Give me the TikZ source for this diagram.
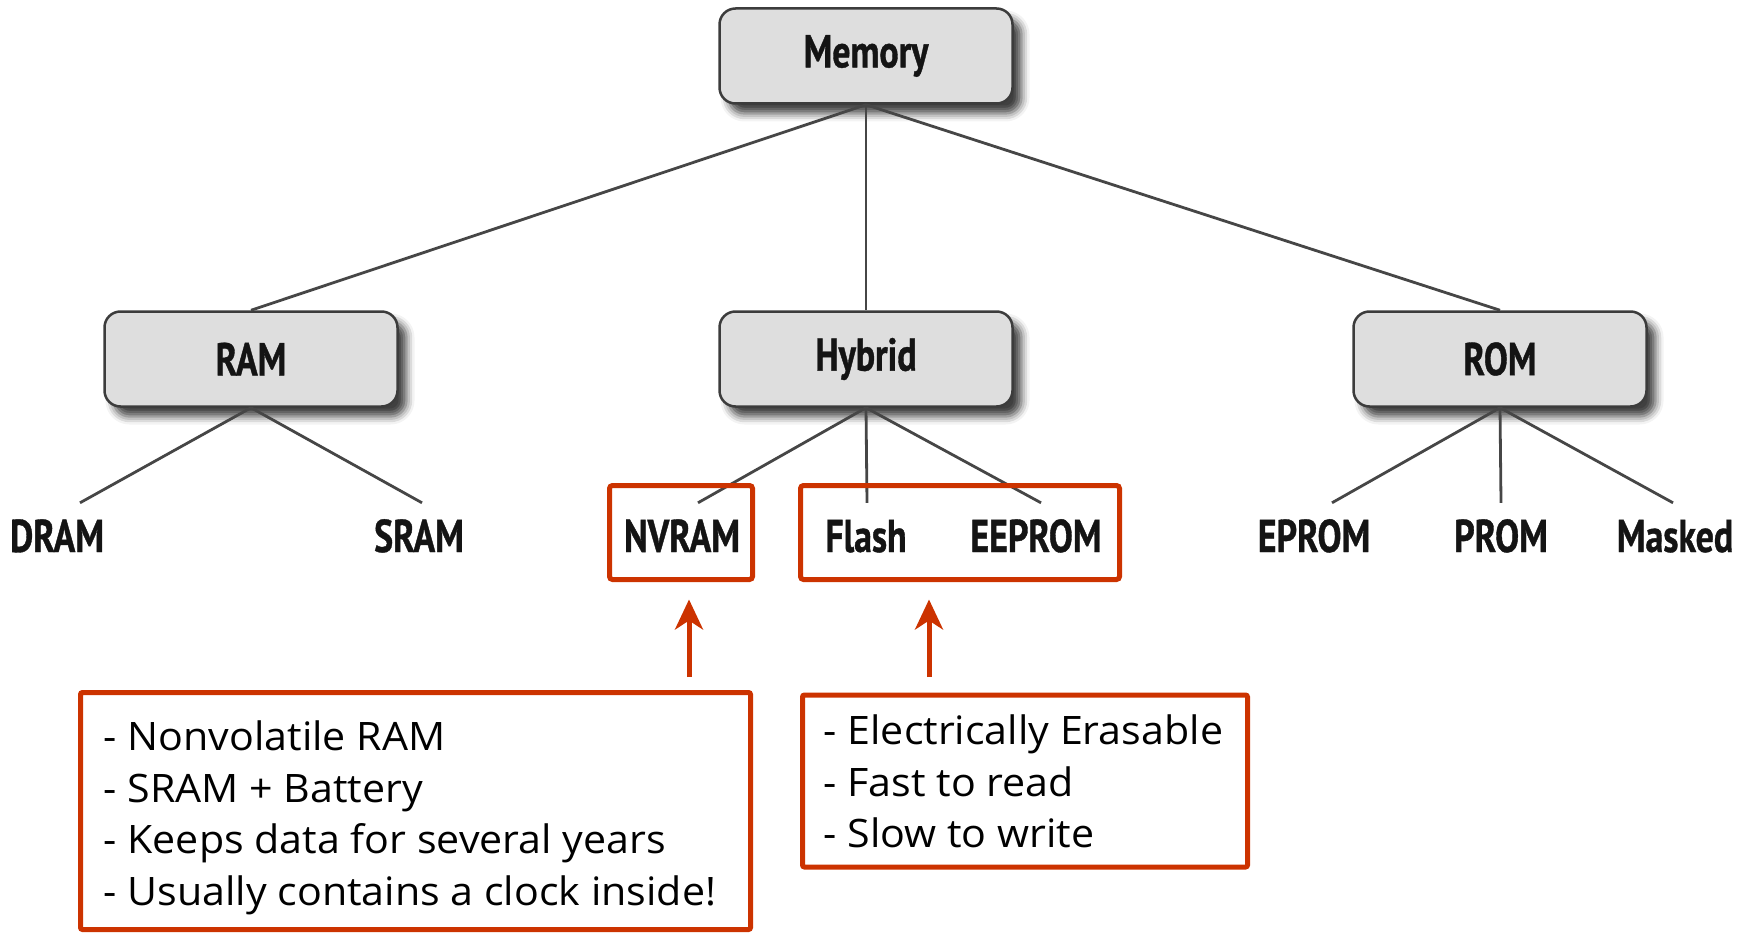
\documentclass[tikz,border=0pt]{standalone}
\usepackage{fontspec}
\setmainfont{Open Sans}[FakeStretch=1.05]
\newfontfamily\leaffont{PT Sans}[FakeStretch=0.78, FakeBold=0.8]
\usetikzlibrary{arrows.meta,shadows.blur}

\definecolor{notered}{RGB}{204,51,0}
\definecolor{boxfill}{RGB}{222,222,222}
\definecolor{boxline}{RGB}{60,60,60}
\definecolor{linkgray}{RGB}{70,70,70}
\definecolor{labelink}{RGB}{20,20,20}

\begin{document}
\begin{tikzpicture}[x=1pt,y=-1pt,
  labelfont/.style={font=\leaffont\bfseries\fontsize{46}{50}\selectfont, text=labelink},
  catbox/.style={labelfont, draw=boxline, line width=2.5pt, fill=boxfill,
    rounded corners=16pt, minimum width=293pt, minimum height=95pt, inner sep=0pt,
    blur shadow={shadow xshift=9pt, shadow yshift=-10pt, shadow blur radius=8pt, shadow opacity=75}},
  leaf/.style={labelfont, anchor=base, inner xsep=0pt, inner ysep=16pt,
    text height=33pt, text depth=0pt},
  link/.style={draw=linkgray, line width=2.8pt},
  hilite/.style={draw=notered, line width=5pt, rounded corners=3pt, inner sep=0pt},
  notetext/.style={anchor=north west, inner sep=0pt, align=left,
    font=\fontsize{39.2}{51.7}\selectfont, text=black},
  callout/.style={draw=notered, line width=5pt,
    -{Stealth[length=30pt,width=28pt,inset=9pt]}}
]
\useasboundingbox (0,0) rectangle (1752,933);

% category boxes
\node[catbox] (mem) at (866,56) {Memory};
\node[catbox] (ram) at (251,359) {RAM};
\node[catbox] (hyb) at (866,359) {Hybrid};
\node[catbox] (rom) at (1500,359) {ROM};

% leaves (baseline at y = 552)
\node[leaf] (dram)   at (57,552)   {DRAM};
\node[leaf] (sram)   at (419,552)  {SRAM};
\node[leaf] (nvram)  at (682,552)  {NVRAM};
\node[leaf] (flash)  at (866,552)  {Flash};
\node[leaf] (eeprom) at (1036,552) {EEPROM};
\node[leaf] (eprom)  at (1314,552) {EPROM};
\node[leaf] (prom)   at (1501,552) {PROM};
\node[leaf] (masked) at (1675,552) {Masked};

% tree links
\draw[link] (mem.south) -- (ram.north);
\draw[link] (mem.south) -- (hyb.north);
\draw[link] (mem.south) -- (rom.north);
\draw[link] (ram.south) -- ([xshift=23pt]dram.north);
\draw[link] (ram.south) -- ([xshift=3pt]sram.north);
\draw[link] (hyb.south) -- ([xshift=16pt]nvram.north);
\draw[link] (hyb.south) -- ([xshift=1pt]flash.north);
\draw[link] (hyb.south) -- ([xshift=5pt]eeprom.north);
\draw[link] (rom.south) -- ([xshift=18pt]eprom.north);
\draw[link] (rom.south) -- (prom.north);
\draw[link] (rom.south) -- ([xshift=-2pt]masked.north);

% red highlight frames
\node[hilite, minimum width=143pt, minimum height=94pt] (nvhi) at (681,532.5) {};
\node[hilite, minimum width=319pt, minimum height=94pt] (eehi) at (960,532.5) {};

% note frames
\node[hilite, rounded corners=2pt, minimum width=670pt, minimum height=237pt] (nvnote) at (415.5,811) {};
\node[hilite, rounded corners=2pt, minimum width=445pt, minimum height=172pt] (eenote) at (1025,781) {};

% note texts
\node[notetext] (nvtext) at (103.5,720.5) {- Nonvolatile RAM\\- SRAM + Battery\\- Keeps data for several years\\- Usually contains a clock inside!};
\node[notetext] (eetext) at (823.5,714.5) {- Electrically Erasable\\- Fast to read\\- Slow to write};

% callout arrows
\coordinate (nvfoot) at (689,677);
\coordinate (eefoot) at (929,677);
\draw[callout, shorten >=17.5pt] (nvfoot) -- (nvfoot |- nvhi.south);
\draw[callout, shorten >=17.5pt] (eefoot) -- (eefoot |- eehi.south);
\end{tikzpicture}
\end{document}
